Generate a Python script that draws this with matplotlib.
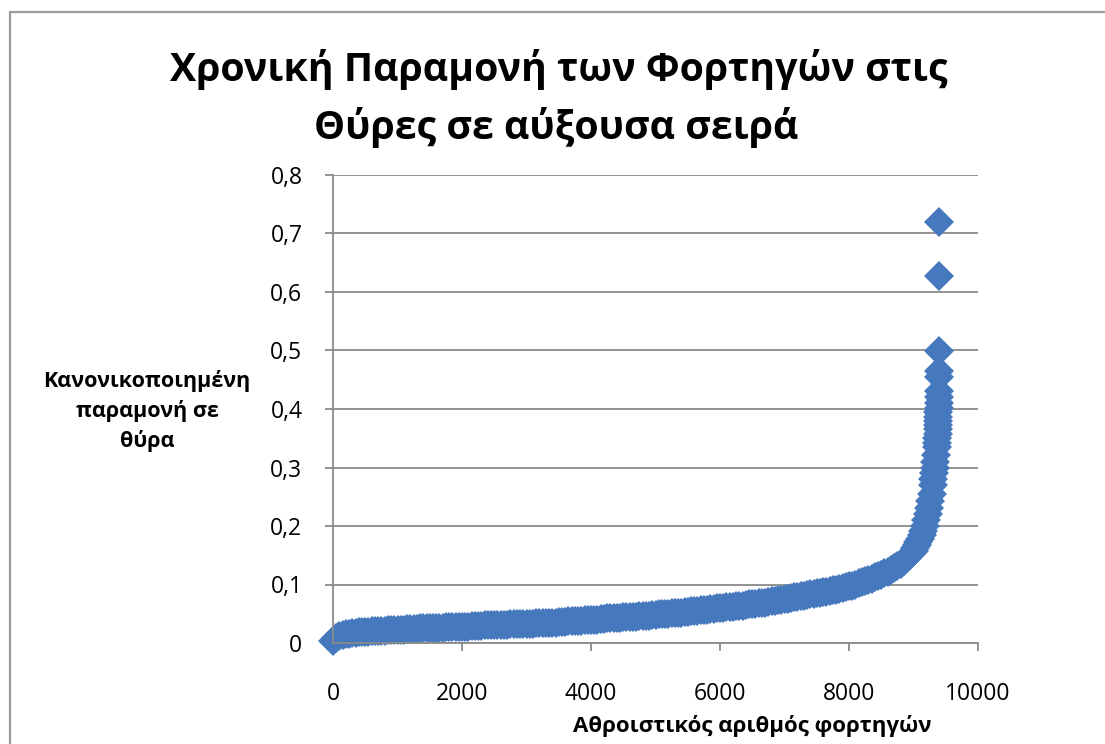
import matplotlib
matplotlib.use("Agg")
import matplotlib.pyplot as plt
from matplotlib.patches import Rectangle
from matplotlib.ticker import FuncFormatter, MultipleLocator

plt.rcParams['font.family'] = ['Open Sans', 'DejaVu Sans']

# Normalized dwell time at the doors, sorted ascending.
# Body of the curve: one reading every 50 trucks from 0 to 9000.
body_trucks = list(range(0, 9001, 50))
body_dwell = [
    0.003, 0.009, 0.012, 0.014, 0.015, 0.016, 0.017, 0.017, 0.018, 0.018,
    0.019, 0.019, 0.020, 0.020, 0.021, 0.021, 0.021, 0.022, 0.022, 0.022, 0.023,
    0.023, 0.023, 0.024, 0.024, 0.024, 0.024, 0.025, 0.025, 0.025, 0.025,
    0.026, 0.026, 0.026, 0.026, 0.027, 0.027, 0.027, 0.027, 0.028, 0.028,
    0.028, 0.028, 0.029, 0.029, 0.029, 0.029, 0.030, 0.030, 0.030, 0.030,
    0.031, 0.031, 0.031, 0.031, 0.032, 0.032, 0.032, 0.032, 0.033, 0.033,
    0.033, 0.033, 0.034, 0.034, 0.034, 0.034, 0.035, 0.035, 0.035, 0.036,
    0.036, 0.036, 0.037, 0.037, 0.037, 0.038, 0.038, 0.039, 0.039, 0.040,
    0.040, 0.040, 0.041, 0.041, 0.042, 0.042, 0.042, 0.043, 0.043, 0.044,
    0.044, 0.044, 0.045, 0.045, 0.046, 0.046, 0.047, 0.047, 0.048, 0.048,
    0.049, 0.049, 0.050, 0.050, 0.051, 0.051, 0.052, 0.052, 0.053, 0.053,
    0.054, 0.054, 0.055, 0.056, 0.056, 0.057, 0.058, 0.058, 0.059, 0.060,
    0.060, 0.061, 0.062, 0.062, 0.063, 0.064, 0.064, 0.065, 0.066, 0.066,
    0.067, 0.068, 0.069, 0.069, 0.070, 0.071, 0.072, 0.073, 0.074, 0.075,
    0.076, 0.077, 0.078, 0.079, 0.080, 0.081, 0.082, 0.083, 0.084, 0.085,
    0.086, 0.087, 0.088, 0.089, 0.090, 0.091, 0.093, 0.094, 0.095, 0.097,
    0.098, 0.100, 0.102, 0.104, 0.106, 0.108, 0.110, 0.112, 0.114, 0.117,
    0.119, 0.122, 0.125, 0.128, 0.131, 0.135, 0.140, 0.145, 0.151, 0.158,
]
# Steep tail: the last few hundred trucks
tail_trucks = [9025, 9050, 9075, 9100, 9125, 9150, 9175, 9200, 9220, 9240,
               9260, 9280, 9300, 9310, 9320, 9330, 9340, 9350, 9360, 9365,
               9370, 9374, 9378, 9381, 9383, 9385, 9387, 9389, 9390, 9391,
               9392, 9393, 9394, 9395, 9396, 9397]
tail_dwell = [0.162, 0.167, 0.172, 0.178, 0.185, 0.192, 0.200, 0.210, 0.220,
              0.230, 0.242, 0.255, 0.270, 0.280, 0.290, 0.300, 0.310, 0.322,
              0.335, 0.342, 0.350, 0.357, 0.365, 0.372, 0.380, 0.387, 0.395,
              0.402, 0.410, 0.420, 0.430, 0.455, 0.465, 0.500, 0.627, 0.720]

trucks = body_trucks + tail_trucks
dwell = body_dwell + tail_dwell

title_lines = ["Χρονική Παραμονή των Φορτηγών στις", "Θύρες σε αύξουσα σειρά"]
y_label = "Κανονικοποιημένη\nπαραμονή σε\nθύρα"
x_label = "Αθροιστικός αριθμός φορτηγών"

W, H = 1105, 744
fig = plt.figure(figsize=(W / 100, H / 100), dpi=100)
fig.patch.set_facecolor('white')

# outer chart frame
fig.patches.append(Rectangle((10 / W, -0.1), 1.2, 1 - 12 / H + 0.1,
                             transform=fig.transFigure, fill=False,
                             edgecolor='#9a9a9a', linewidth=1.6))

left, right, bottom, top = 333 / W, 978 / W, 1 - 643 / H, 1 - 175 / H
ax = fig.add_axes([left, bottom, right - left, top - bottom])

grid_color = '#8a8a8a'
ax.set_xlim(0, 10000)
ax.set_ylim(0, 0.8)
ax.xaxis.set_major_locator(MultipleLocator(2000))
ax.yaxis.set_major_locator(MultipleLocator(0.1))
ax.yaxis.set_major_formatter(FuncFormatter(
    lambda v, p: "0" if abs(v) < 1e-9 else f"{v:.1f}".replace('.', ',')))
ax.xaxis.set_major_formatter(FuncFormatter(lambda v, p: f"{int(round(v))}"))
ax.grid(axis='y', color=grid_color, linewidth=1.3)
ax.set_axisbelow(True)
for s in ['top', 'right']:
    ax.spines[s].set_visible(False)
for s in ['left', 'bottom']:
    ax.spines[s].set_color(grid_color)
    ax.spines[s].set_linewidth(1.3)
ax.tick_params(axis='both', colors=grid_color, length=6, width=1.3,
               labelcolor='black', labelsize=16.5)
ax.tick_params(axis='x', pad=22)
ax.tick_params(axis='y', pad=16)

ax.plot(trucks, dwell, linestyle='none', marker='D', markersize=15,
        color='#4678be', markeredgewidth=0, clip_on=False)

fig.text(559 / W, 1 - 70 / H, title_lines[0], ha='center', va='center',
         fontsize=28.3, fontweight='bold')
fig.text(556 / W, 1 - 127 / H, title_lines[1], ha='center', va='center',
         fontsize=28.3, fontweight='bold')
fig.text(147 / W, 1 - 411 / H, y_label, ha='center', va='center',
         fontsize=15.5, fontweight='bold', linespacing=1.45)
fig.text(752 / W, 1 - 726 / H, x_label, ha='center', va='center',
         fontsize=16, fontweight='bold')

fig.savefig('out.png', dpi=100, facecolor='white')
